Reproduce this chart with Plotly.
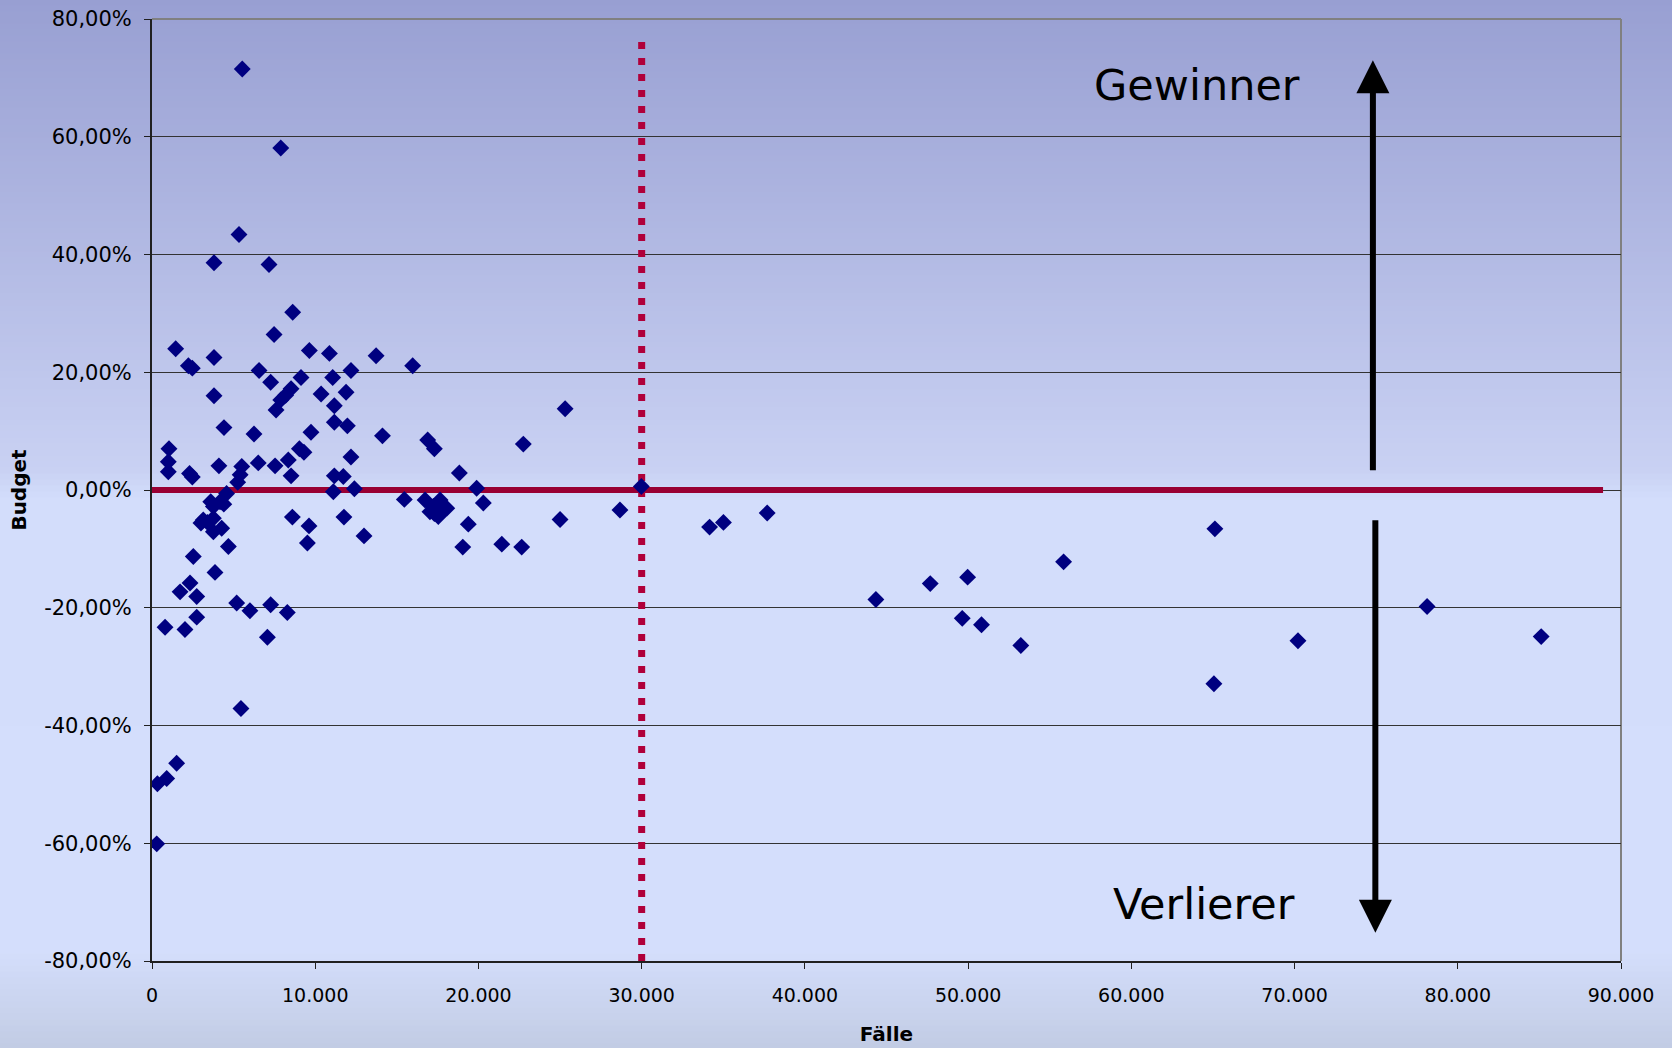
import plotly.graph_objects as go

# Fälle (cases) and Budget change (%) per unit
faelle = [
    5530, 7890, 5330, 3800, 7170, 8620, 7480, 1450, 3800, 9640, 10870, 13730,
    15970, 2230, 2470, 6560, 12190, 7270, 9130, 11070, 3800, 8520, 8190, 7890,
    7600, 10360, 11890, 11170, 25310, 4410, 6250, 9740, 11170, 11970, 14120,
    16890, 17300, 22750, 12190, 18830, 19890, 1040, 9030, 9310, 11170, 11720,
    11110, 12400, 1000, 1000, 2300, 2470, 4100, 5500, 6510, 7540, 8350, 8520,
    5400, 5250,
    4570, 4170, 3760, 3140, 3760, 4270, 3760, 4680, 2530, 3860, 2330, 1720,
    2740, 2740, 800, 2020, 5190, 6000, 7270, 8290, 7070, 5450, 1510, 900, 330,
    290, 8600, 9620, 9520, 11760, 12990, 15460, 16730, 17240, 17030, 17540,
    18060, 17650, 17300, 17800, 20300, 19380, 19040, 21430, 22650, 25000,
    3600, 3000, 3400, 4400,
    28670, 29980, 34160, 35010, 37690, 44350, 47680, 49970, 49640, 50820,
    53230, 55850, 65120, 65060, 70210, 78120, 85110,
]
budget = [
    71.5, 58.1, 43.4, 38.6, 38.3, 30.2, 26.4, 24.0, 22.5, 23.7, 23.2, 22.8,
    21.1, 21.1, 20.7, 20.3, 20.3, 18.3, 19.1, 19.1, 16.0, 17.2, 16.1, 15.3,
    13.6, 16.3, 16.6, 14.3, 13.8, 10.6, 9.5, 9.8, 11.5, 10.9, 9.2,
    8.5, 7.0, 7.8, 5.6, 2.9, 0.3, 7.0, 7.0, 6.4, 2.4, 2.3,
    -0.3, 0.2, 4.8, 3.1, 2.8, 2.2, 4.1, 4.0, 4.6, 4.1, 5.1, 2.4,
    2.6, 1.3,
    -0.6, -2.0, -2.8, -5.1, -4.8, -6.5, -7.1, -9.6, -11.3, -14.0, -15.8, -17.3,
    -18.1, -21.6, -23.3, -23.7, -19.2, -20.5, -19.5, -20.8, -25.0, -37.1, -46.4, -49.0, -49.9,
    -60.1, -4.6, -6.1, -9.0, -4.6, -7.8, -1.6, -1.7, -2.8, -3.7, -4.5,
    -3.1, -1.7, -4.0, -3.6, -2.2, -5.8, -9.7, -9.2, -9.7, -5.0,
    -2.0, -5.6, -5.5, -2.4,
    -3.4, 0.6, -6.3, -5.5, -3.9, -18.6, -15.9, -14.8, -21.8, -22.9,
    -26.4, -12.2, -6.6, -32.9, -25.6, -19.8, -24.9,
]

# Axis ticks
x_ticks = [0, 10000, 20000, 30000, 40000, 50000, 60000, 70000, 80000, 90000]
x_tick_text = ["0", "10.000", "20.000", "30.000", "40.000", "50.000",
               "60.000", "70.000", "80.000", "90.000"]
y_ticks = [-80, -60, -40, -20, 0, 20, 40, 60, 80]
y_tick_text = ["-80,00%", "-60,00%", "-40,00%", "-20,00%", "0,00%",
               "20,00%", "40,00%", "60,00%", "80,00%"]

# Reference lines: break-even budget line and 30.000 cases threshold
zero_line_x = [0, 88900]
zero_line_y = [0, 0]
threshold_x = [30000, 30000]
threshold_y = [-80, 76.5]

# Winner / loser arrows (x, tail, tip)
arrow_up = (74800, 3.1, 73.0)
arrow_down = (74950, -4.9, -75.2)

W, H = 1672, 1048
ML, MR, MT, MB = 152, 51, 19, 87
PW, PH = W - ML - MR, H - MT - MB

fig = go.Figure()

fig.add_trace(go.Scatter(
    x=zero_line_x, y=zero_line_y, mode="lines",
    line=dict(color="#990033", width=6), hoverinfo="skip", showlegend=False,
))
fig.add_trace(go.Scatter(
    x=threshold_x, y=threshold_y, mode="lines",
    line=dict(color="#b0003a", width=7, dash="7px,9px"),
    hoverinfo="skip", showlegend=False,
))
fig.add_trace(go.Scatter(
    x=faelle, y=budget, mode="markers",
    marker=dict(symbol="diamond", size=13, color="#000080",
                line=dict(width=0)),
    showlegend=False,
))

# Vertical background gradient over the whole canvas
stops = [(0, (152, 159, 210)), (470, (201, 209, 243)), (500, (211, 221, 251)),
         (950, (212, 222, 252)), (1048, (194, 204, 228))]


def colour_at(py):
    for (y0, c0), (y1, c1) in zip(stops[:-1], stops[1:]):
        if y0 <= py <= y1:
            t = (py - y0) / (y1 - y0)
            return tuple(round(a + (b - a) * t) for a, b in zip(c0, c1))
    return stops[-1][1]


shapes = []
band = 6
for py in range(0, H, band):
    r, g, b = colour_at(py + band / 2)
    shapes.append(dict(
        type="rect", xref="paper", yref="paper", layer="below",
        x0=-ML / PW, x1=(W - ML) / PW,
        y0=(H - MB - py - band - 0.5) / PH, y1=(H - MB - py + 0.5) / PH,
        fillcolor=f"rgb({r},{g},{b})", line=dict(width=0),
    ))

# grey frame on top and right of the plot area
shapes.append(dict(type="line", xref="paper", yref="paper", x0=0, x1=1, y0=1, y1=1,
                   line=dict(color="#808080", width=2), layer="below"))
shapes.append(dict(type="line", xref="paper", yref="paper", x0=1, x1=1, y0=0, y1=1,
                   line=dict(color="#808080", width=2), layer="below"))

annotations = [
    dict(x=arrow_up[0], y=arrow_up[2], ax=arrow_up[0], ay=arrow_up[1],
         xref="x", yref="y", axref="x", ayref="y", text="", showarrow=True,
         arrowhead=2, arrowsize=1.1, arrowwidth=6, arrowcolor="black"),
    dict(x=arrow_down[0], y=arrow_down[2], ax=arrow_down[0], ay=arrow_down[1],
         xref="x", yref="y", axref="x", ayref="y", text="", showarrow=True,
         arrowhead=2, arrowsize=1.1, arrowwidth=6, arrowcolor="black"),
    dict(x=64000, y=68.8, xref="x", yref="y", text="Gewinner", showarrow=False,
         font=dict(family="DejaVu Sans", size=43, color="black")),
    dict(x=64450, y=-70.4, xref="x", yref="y", text="Verlierer", showarrow=False,
         font=dict(family="DejaVu Sans", size=43, color="black")),
]

fig.update_layout(
    width=W, height=H,
    margin=dict(l=ML, r=MR, t=MT, b=MB),
    paper_bgcolor="rgba(0,0,0,0)", plot_bgcolor="rgba(0,0,0,0)",
    shapes=shapes, annotations=annotations,
    font=dict(family="DejaVu Sans", color="black"),
    xaxis=dict(
        range=[0, 90000], tickvals=x_ticks, ticktext=x_tick_text,
        showgrid=False, zeroline=False, showline=True, linecolor="#202020",
        linewidth=2, ticks="outside", ticklen=6, tickcolor="#202020",
        tickfont=dict(family="DejaVu Sans", size=19), ticklabelstandoff=10,
        automargin=False,
        title=dict(text="<b>Fälle</b>", font=dict(family="DejaVu Sans", size=20),
                   standoff=22),
    ),
    yaxis=dict(
        range=[-80, 80], tickvals=y_ticks, ticktext=y_tick_text,
        showgrid=True, gridcolor="#333333", gridwidth=1, zeroline=False,
        showline=True, linecolor="#202020", linewidth=2, ticks="outside",
        ticklen=6, tickcolor="#202020", automargin=False,
        tickfont=dict(family="DejaVu Sans", size=21), ticklabelstandoff=8,
        title=dict(text="<b>Budget</b>", font=dict(family="DejaVu Sans", size=20),
                   standoff=12),
    ),
)

fig.write_html("out.html")
